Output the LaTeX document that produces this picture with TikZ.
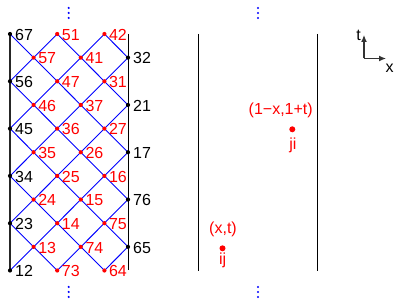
\documentclass[tikz,border=0pt]{standalone}
\usepackage{fontspec}
\setmainfont{Liberation Sans}
\usetikzlibrary{arrows.meta}
\begin{document}
\begin{tikzpicture}[x=1pt,y=-1pt,
  lat/.style={blue, line width=0.9pt},
  bound/.style={black!85, line width=1.2pt},
  wall/.style={black, line width=1pt},
  bdot/.style={circle, fill=black, inner sep=0pt, minimum size=4.2pt},
  rdot/.style={circle, fill=red, inner sep=0pt, minimum size=4.2pt},
  bigdot/.style={circle, fill=red, inner sep=0pt, minimum size=6pt},
  lab/.style={anchor=base west, inner sep=0pt, font=\fontsize{16}{16}\selectfont},
  txt/.style={anchor=base, inner sep=0pt, font=\fontsize{16}{16}\selectfont},
  ell/.style={circle, fill=blue, inner sep=0pt, minimum size=2.4pt},
  axis/.style={black!80, line width=1.2pt, -{Latex[length=7pt,width=6pt]}}
]
\useasboundingbox (0,0) rectangle (397,302);
\def\dd{23.65}
% lattice coordinates
\foreach \j in {0,...,10} {
  \foreach \i in {0,...,5} {
    \pgfmathtruncatemacro\parity{mod(\i+\j,2)}
    \ifnum\parity=0
      \coordinate (p-\i-\j) at ({10+23.6*\i},{34+\dd*\j});
    \fi
  }
}
% blue diagonals
\foreach \j in {0,...,9} {
  \foreach \i in {0,...,5} {
    \pgfmathtruncatemacro\parity{mod(\i+\j,2)}
    \pgfmathtruncatemacro\nj{\j+1}
    \pgfmathtruncatemacro\ri{\i+1}
    \pgfmathtruncatemacro\li{\i-1}
    \ifnum\parity=0
      \ifnum\i<5 \draw[lat] (p-\i-\j) -- (p-\ri-\nj); \fi
      \ifnum\i>0 \draw[lat] (p-\i-\j) -- (p-\li-\nj); \fi
    \fi
  }
}
% boundaries of the lattice
\coordinate (rt) at (128,34);
\coordinate (rb) at (128,270.5);
\draw[bound] (p-0-0) -- (p-0-10);
\draw[wall] (rt) -- (rb);
% black boundary dots and labels
\foreach \i/\j/\t in {0/0/67,0/2/56,0/4/45,0/6/34,0/8/23,0/10/12,5/1/32,5/3/21,5/5/17,5/7/76,5/9/65} {
  \node[bdot] (d-\i-\j) at (p-\i-\j) {};
  \node[lab, text=black, xshift=5pt, yshift=-6.3pt] (l-\i-\j) at (d-\i-\j.center) {\t};
}
% red lattice dots and labels
\foreach \i/\j/\t in {2/0/51,4/0/42,1/1/57,3/1/41,2/2/47,4/2/31,1/3/46,3/3/37,2/4/36,4/4/27,1/5/35,3/5/26,2/6/25,4/6/16,1/7/24,3/7/15,2/8/14,4/8/75,1/9/13,3/9/74,2/10/73,4/10/64} {
  \node[rdot] (d-\i-\j) at (p-\i-\j) {};
  \node[lab, text=red, xshift=4.5pt, yshift=-6.3pt] (l-\i-\j) at (d-\i-\j.center) {\t};
}
% vertical ellipses
\foreach \k/\y in {1/8,2/13,3/18} {
  \node[ell] (et\k) at (68.7,\y) {};
  \node[ell] (ft\k) at (258,\y) {};
}
\foreach \k/\y in {1/287,2/292,3/297} {
  \node[ell] (eb\k) at (68.7,\y) {};
  \node[ell] (fb\k) at (258,\y) {};
}
% right panel walls
\coordinate (lt) at (198.5,34);
\coordinate (lb) at (198.5,271.5);
\coordinate (mt) at (317.7,34);
\coordinate (mb) at (317.7,271.5);
\draw[wall] (lt) -- (lb);
\draw[wall] (mt) -- (mb);
% points
\node[bigdot] (ij) at (222.5,248.3) {};
\node[txt, text=red] (ijt) at (223,234) {(x,t)};
\node[txt, text=red] (ijl) at (222.7,264.8) {ij};
\node[bigdot] (ji) at (292.3,129.3) {};
\node[txt, text=red] (jit) at (280.7,115) {(1−x,1+t)};
\node[txt, text=red] (jil) at (293,149.5) {ji};
% axes
\coordinate (o) at (364,58.5);
\coordinate (ay) at (364,35);
\coordinate (ax) at (386,58.5);
\draw[axis] (o) -- (ay);
\draw[axis] (o) -- (ax);
\node[txt] (tl) at (358.5,40.3) {t};
\node[txt] (xl) at (389.5,73) {x};
\end{tikzpicture}
\end{document}
